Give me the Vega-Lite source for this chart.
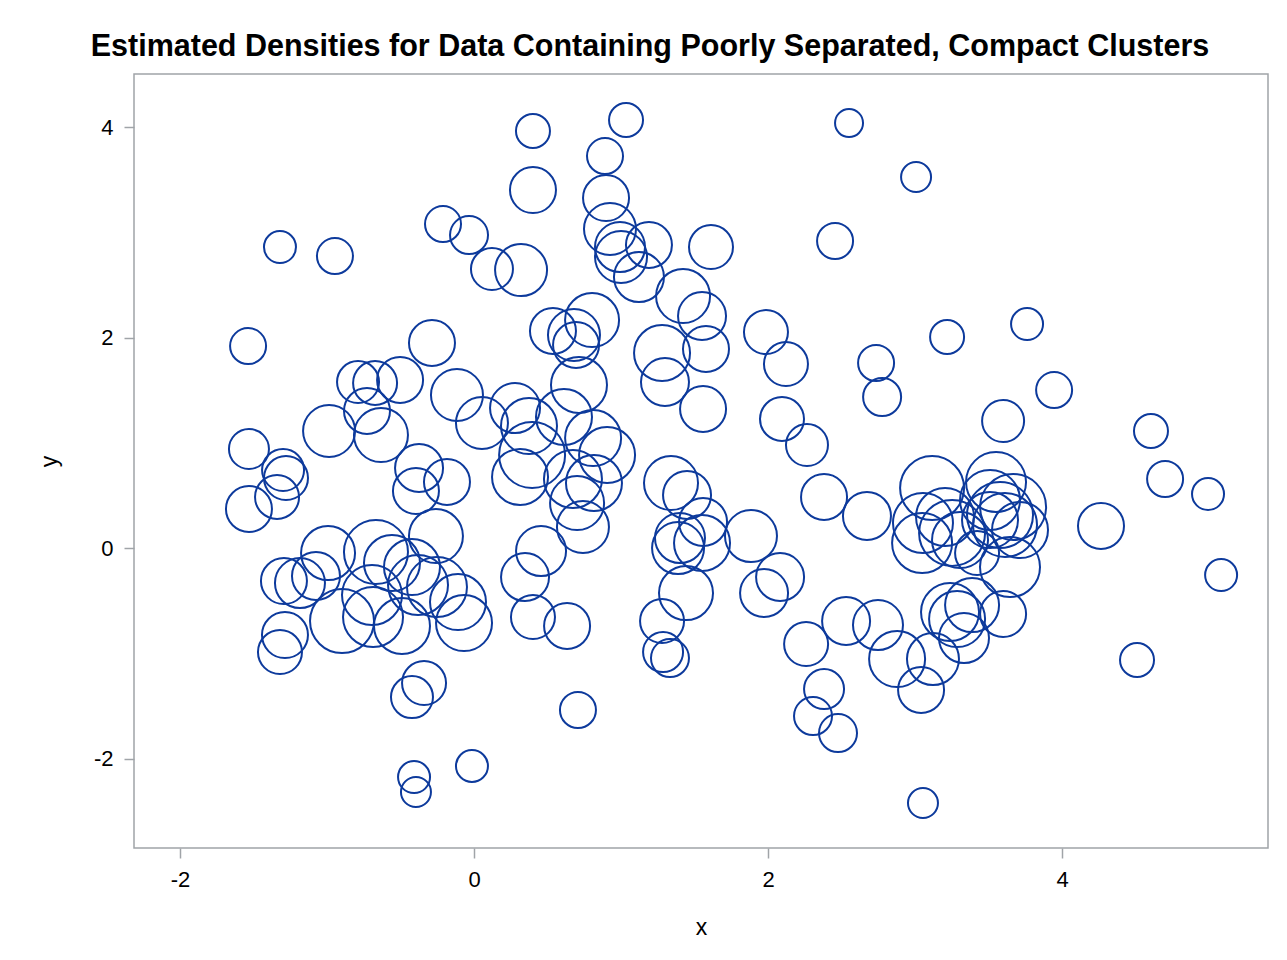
{
  "$schema": "https://vega.github.io/schema/vega-lite/v6.json",
  "width": 1134,
  "height": 774,
  "autosize": {"type": "none"},
  "padding": {"left": 134, "top": 74, "right": 19, "bottom": 112},
  "background": "white",
  "title": {
    "text": "Estimated Densities for Data Containing Poorly Separated, Compact Clusters",
    "font": "Liberation Sans",
    "fontSize": 30.5,
    "fontWeight": "bold",
    "color": "black",
    "anchor": "middle",
    "dx": -51,
    "offset": 12
  },
  "data": {
    "values": [
      {"x": 0.401, "y": 3.962, "density": 0.017},
      {"x": 1.034, "y": 4.067, "density": 0.017},
      {"x": 2.551, "y": 4.038, "density": 0.014},
      {"x": 3.007, "y": 3.525, "density": 0.015},
      {"x": 0.891, "y": 3.724, "density": 0.018},
      {"x": -1.320, "y": 2.860, "density": 0.016},
      {"x": -0.946, "y": 2.774, "density": 0.018},
      {"x": -0.211, "y": 3.078, "density": 0.018},
      {"x": -0.034, "y": 2.974, "density": 0.019},
      {"x": 0.122, "y": 2.651, "density": 0.021},
      {"x": 0.320, "y": 2.641, "density": 0.026},
      {"x": 0.401, "y": 3.401, "density": 0.023},
      {"x": 0.898, "y": 3.325, "density": 0.023},
      {"x": 0.925, "y": 3.031, "density": 0.026},
      {"x": 0.993, "y": 2.860, "density": 0.025},
      {"x": 1.000, "y": 2.765, "density": 0.026},
      {"x": 1.190, "y": 2.879, "density": 0.023},
      {"x": 1.122, "y": 2.575, "density": 0.025},
      {"x": 1.612, "y": 2.860, "density": 0.022},
      {"x": 2.456, "y": 2.917, "density": 0.018},
      {"x": 1.422, "y": 2.394, "density": 0.027},
      {"x": 1.551, "y": 2.204, "density": 0.024},
      {"x": 1.986, "y": 2.052, "density": 0.022},
      {"x": 0.537, "y": 2.062, "density": 0.023},
      {"x": 0.680, "y": 2.024, "density": 0.026},
      {"x": 0.694, "y": 1.929, "density": 0.023},
      {"x": 0.803, "y": 2.166, "density": 0.027},
      {"x": 3.218, "y": 2.005, "density": 0.017},
      {"x": 3.762, "y": 2.128, "density": 0.016},
      {"x": -1.537, "y": 1.919, "density": 0.018},
      {"x": -0.286, "y": 1.948, "density": 0.023},
      {"x": 1.279, "y": 1.853, "density": 0.028},
      {"x": 1.578, "y": 1.891, "density": 0.023},
      {"x": 2.122, "y": 1.748, "density": 0.022},
      {"x": 2.735, "y": 1.758, "density": 0.018},
      {"x": 2.776, "y": 1.435, "density": 0.019},
      {"x": 1.299, "y": 1.577, "density": 0.024},
      {"x": 1.558, "y": 1.321, "density": 0.023},
      {"x": 0.714, "y": 1.549, "density": 0.028},
      {"x": 3.946, "y": 1.501, "density": 0.018},
      {"x": -0.789, "y": 1.577, "density": 0.021},
      {"x": -0.673, "y": 1.568, "density": 0.022},
      {"x": -0.503, "y": 1.596, "density": 0.023},
      {"x": -0.728, "y": 1.302, "density": 0.023},
      {"x": -0.633, "y": 1.074, "density": 0.027},
      {"x": -0.986, "y": 1.112, "density": 0.026},
      {"x": -0.116, "y": 1.454, "density": 0.026},
      {"x": 0.054, "y": 1.188, "density": 0.026},
      {"x": 0.279, "y": 1.330, "density": 0.025},
      {"x": 0.374, "y": 1.159, "density": 0.028},
      {"x": 0.612, "y": 1.245, "density": 0.028},
      {"x": 0.810, "y": 1.045, "density": 0.028},
      {"x": 0.905, "y": 0.884, "density": 0.028},
      {"x": 0.395, "y": 0.884, "density": 0.033},
      {"x": 0.313, "y": 0.675, "density": 0.028},
      {"x": 0.673, "y": 0.656, "density": 0.029},
      {"x": 0.816, "y": 0.618, "density": 0.028},
      {"x": 0.701, "y": 0.428, "density": 0.027},
      {"x": 0.741, "y": 0.200, "density": 0.026},
      {"x": 0.456, "y": -0.029, "density": 0.025},
      {"x": 0.347, "y": -0.276, "density": 0.024},
      {"x": 2.095, "y": 1.226, "density": 0.022},
      {"x": 2.265, "y": 0.979, "density": 0.021},
      {"x": 3.599, "y": 1.207, "density": 0.021},
      {"x": 4.605, "y": 1.112, "density": 0.017},
      {"x": -1.531, "y": 0.941, "density": 0.020},
      {"x": -1.299, "y": 0.741, "density": 0.021},
      {"x": -1.279, "y": 0.665, "density": 0.022},
      {"x": -1.531, "y": 0.371, "density": 0.023},
      {"x": -1.340, "y": 0.485, "density": 0.022},
      {"x": -0.374, "y": 0.760, "density": 0.024},
      {"x": -0.184, "y": 0.627, "density": 0.023},
      {"x": -0.395, "y": 0.542, "density": 0.023},
      {"x": 1.340, "y": 0.618, "density": 0.027},
      {"x": 1.449, "y": 0.504, "density": 0.024},
      {"x": 1.558, "y": 0.247, "density": 0.024},
      {"x": 1.401, "y": 0.095, "density": 0.025},
      {"x": 1.388, "y": 0.000, "density": 0.026},
      {"x": 1.551, "y": 0.048, "density": 0.028},
      {"x": 1.884, "y": 0.114, "density": 0.026},
      {"x": 2.381, "y": 0.485, "density": 0.023},
      {"x": 2.673, "y": 0.304, "density": 0.024},
      {"x": 4.701, "y": 0.656, "density": 0.018},
      {"x": 4.993, "y": 0.513, "density": 0.016},
      {"x": 4.265, "y": 0.209, "density": 0.023},
      {"x": 5.082, "y": -0.257, "density": 0.016},
      {"x": 2.082, "y": -0.276, "density": 0.024},
      {"x": 1.973, "y": -0.428, "density": 0.024},
      {"x": -0.259, "y": 0.114, "density": 0.027},
      {"x": -1.293, "y": -0.314, "density": 0.023},
      {"x": -1.184, "y": -0.333, "density": 0.025},
      {"x": -1.075, "y": -0.266, "density": 0.024},
      {"x": -0.993, "y": -0.048, "density": 0.027},
      {"x": -0.898, "y": -0.694, "density": 0.032},
      {"x": -0.667, "y": -0.038, "density": 0.032},
      {"x": -0.694, "y": -0.447, "density": 0.030},
      {"x": -0.687, "y": -0.656, "density": 0.030},
      {"x": -0.558, "y": -0.143, "density": 0.028},
      {"x": -0.422, "y": -0.181, "density": 0.028},
      {"x": -0.490, "y": -0.741, "density": 0.028},
      {"x": -0.381, "y": -0.352, "density": 0.030},
      {"x": -0.252, "y": -0.371, "density": 0.030},
      {"x": -0.109, "y": -0.513, "density": 0.028},
      {"x": -0.068, "y": -0.713, "density": 0.028},
      {"x": -1.286, "y": -0.827, "density": 0.023},
      {"x": -1.320, "y": -0.988, "density": 0.022},
      {"x": -0.340, "y": -1.283, "density": 0.022},
      {"x": -0.422, "y": -1.416, "density": 0.021},
      {"x": -0.408, "y": -2.176, "density": 0.016},
      {"x": -0.395, "y": -2.318, "density": 0.015},
      {"x": -0.014, "y": -2.071, "density": 0.016},
      {"x": 0.401, "y": -0.656, "density": 0.022},
      {"x": 0.633, "y": -0.741, "density": 0.023},
      {"x": 0.707, "y": -1.539, "density": 0.018},
      {"x": 1.279, "y": -0.694, "density": 0.022},
      {"x": 1.286, "y": -0.988, "density": 0.020},
      {"x": 1.333, "y": -1.045, "density": 0.019},
      {"x": 1.442, "y": -0.428, "density": 0.027},
      {"x": 2.259, "y": -0.912, "density": 0.022},
      {"x": 2.531, "y": -0.694, "density": 0.024},
      {"x": 2.748, "y": -0.732, "density": 0.025},
      {"x": 2.878, "y": -1.055, "density": 0.028},
      {"x": 2.381, "y": -1.340, "density": 0.020},
      {"x": 2.306, "y": -1.596, "density": 0.019},
      {"x": 2.476, "y": -1.758, "density": 0.019},
      {"x": 3.122, "y": -1.055, "density": 0.026},
      {"x": 3.041, "y": -1.349, "density": 0.023},
      {"x": 3.238, "y": -0.608, "density": 0.029},
      {"x": 3.286, "y": -0.675, "density": 0.028},
      {"x": 3.388, "y": -0.542, "density": 0.027},
      {"x": 3.333, "y": -0.855, "density": 0.025},
      {"x": 3.599, "y": -0.627, "density": 0.023},
      {"x": 4.510, "y": -1.064, "density": 0.017},
      {"x": 3.054, "y": -2.423, "density": 0.015},
      {"x": 3.116, "y": 0.570, "density": 0.032},
      {"x": 3.551, "y": 0.627, "density": 0.030},
      {"x": 3.204, "y": 0.295, "density": 0.029},
      {"x": 3.054, "y": 0.238, "density": 0.030},
      {"x": 3.048, "y": 0.048, "density": 0.030},
      {"x": 3.252, "y": 0.143, "density": 0.033},
      {"x": 3.667, "y": 0.390, "density": 0.033},
      {"x": 3.578, "y": 0.314, "density": 0.033},
      {"x": 3.646, "y": -0.181, "density": 0.030},
      {"x": 3.422, "y": -0.048, "density": 0.022},
      {"x": 3.612, "y": 0.219, "density": 0.032},
      {"x": 3.510, "y": 0.266, "density": 0.028},
      {"x": 3.306, "y": 0.076, "density": 0.028},
      {"x": 3.714, "y": 0.171, "density": 0.028},
      {"x": 3.510, "y": 0.456, "density": 0.030}
    ]
  },
  "mark": {
    "type": "point",
    "shape": "circle",
    "filled": false,
    "stroke": "#0d3a9c",
    "strokeWidth": 2,
    "opacity": 1
  },
  "encoding": {
    "x": {
      "field": "x",
      "type": "quantitative",
      "scale": {"domain": [-2.313, 5.401], "nice": false, "zero": false},
      "axis": {
        "values": [-2, 0, 2, 4],
        "labelExpr": "datum.value < 0 ? '-' + abs(datum.value) : '' + datum.value",
        "grid": false,
        "domain": false,
        "tickColor": "#a0a4a8",
        "tickSize": 10,
        "tickWidth": 1.5,
        "labelFont": "Liberation Sans",
        "labelFontSize": 22,
        "labelColor": "black",
        "labelPadding": 11,
        "title": "x",
        "titleFont": "Liberation Sans",
        "titleFontSize": 23,
        "titleFontWeight": "normal",
        "titleColor": "black",
        "titlePadding": 26
      }
    },
    "y": {
      "field": "y",
      "type": "quantitative",
      "scale": {"domain": [-2.850, 4.504], "nice": false, "zero": false},
      "axis": {
        "values": [-2, 0, 2, 4],
        "labelExpr": "datum.value < 0 ? '-' + abs(datum.value) : '' + datum.value",
        "grid": false,
        "domain": false,
        "tickColor": "#a0a4a8",
        "tickSize": 10,
        "tickWidth": 1.5,
        "labelFont": "Liberation Sans",
        "labelFontSize": 22,
        "labelColor": "black",
        "labelPadding": 11,
        "title": "y",
        "titleFont": "Liberation Sans",
        "titleFontSize": 23,
        "titleFontWeight": "normal",
        "titleColor": "black",
        "titlePadding": 32
      }
    },
    "size": {
      "field": "density",
      "type": "quantitative",
      "scale": {"type": "pow", "exponent": 2, "domain": [0, 0.035], "range": [0, 4900]},
      "legend": null
    }
  },
  "config": {
    "view": {"stroke": "#a0a4a8", "strokeWidth": 1.5}
  }
}
